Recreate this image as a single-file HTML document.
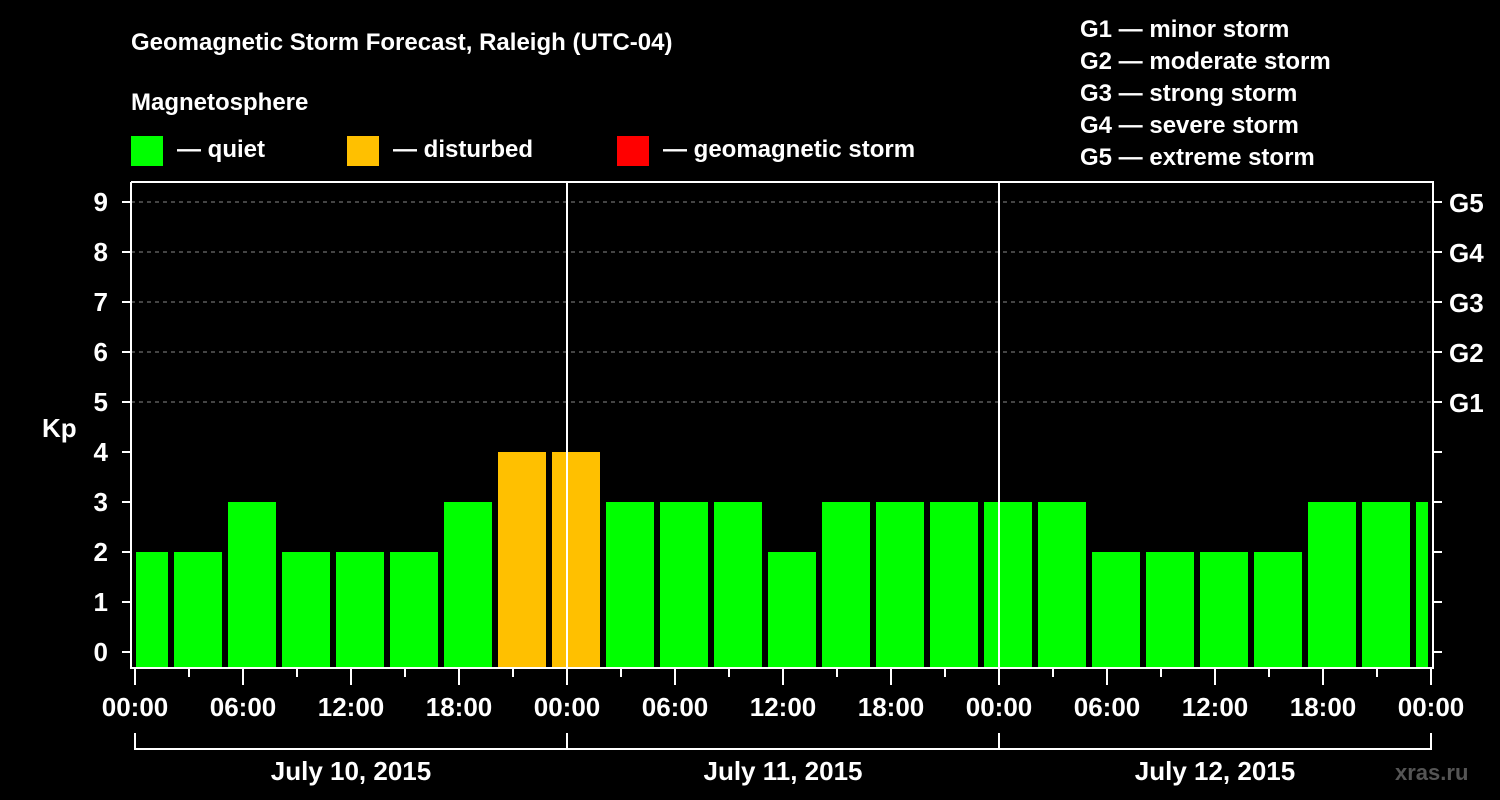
<!DOCTYPE html>
<html><head><meta charset="utf-8"><style>
html,body{margin:0;padding:0;background:#000;}
svg{display:block;font-family:"Liberation Sans",sans-serif;font-weight:bold;}
</style></head><body>
<svg id="chart" width="1500" height="800" viewBox="0 0 1500 800">
<rect width="1500" height="800" fill="#000"/>
<text x="131" y="50" fill="#fff" font-size="24">Geomagnetic Storm Forecast, Raleigh (UTC-04)</text>
<text x="131" y="110" fill="#fff" font-size="24">Magnetosphere</text>
<g><rect x="131" y="136" width="32" height="30" fill="#00ff00"/><text x="177" y="157" fill="#fff" font-size="24">— quiet</text></g>
<g><rect x="347" y="136" width="32" height="30" fill="#ffc000"/><text x="393" y="157" fill="#fff" font-size="24">— disturbed</text></g>
<g><rect x="617" y="136" width="32" height="30" fill="#ff0000"/><text x="663" y="157" fill="#fff" font-size="24">— geomagnetic storm</text></g>
<g fill="#fff" font-size="24">
<text x="1080" y="37">G1 — minor storm</text>
<text x="1080" y="69">G2 — moderate storm</text>
<text x="1080" y="101">G3 — strong storm</text>
<text x="1080" y="133">G4 — severe storm</text>
<text x="1080" y="165">G5 — extreme storm</text>
</g>
<text x="42" y="437" fill="#fff" font-size="26">Kp</text>
<text x="1395" y="780" fill="#555" font-size="22">xras.ru</text>
<g id="grid"></g>
<g id="bars"></g>
<g id="axes"></g>
</svg>
<script>
const kpValues=[2,2,3,2,2,2,3,4,4,3,3,3,2,3,3,3,3,3,2,2,2,2,3,3,3];
const barHours=[0.5,3.5,6.5,9.5,12.5,15.5,18.5,21.5,24.5,27.5,30.5,33.5,36.5,39.5,42.5,45.5,48.5,51.5,54.5,57.5,60.5,63.5,66.5,69.5,72.5];
const yTicks=[0,1,2,3,4,5,6,7,8,9];
const gLabels=["G1","G2","G3","G4","G5"];
const gLevels=[5,6,7,8,9];
const dayLabels=["July 10, 2015","July 11, 2015","July 12, 2015"];
const xTickLabels=["00:00","06:00","12:00","18:00","00:00","06:00","12:00","18:00","00:00","06:00","12:00","18:00","00:00"];
const NS="http://www.w3.org/2000/svg";
const x0=135,pxH=18,y0=652,pxK=50,clipL=136,clipR=1428;
const X=h=>x0+h*pxH, Y=k=>y0-k*pxK;
function mk(tag,attrs,parent,txt){const e=document.createElementNS(NS,tag);for(const k in attrs)e.setAttribute(k,attrs[k]);if(txt!==undefined)e.textContent=txt;parent.appendChild(e);return e;}
const grid=document.getElementById('grid'),bars=document.getElementById('bars'),axes=document.getElementById('axes');
gLevels.forEach((k,i)=>{
 const l=mk('line',{x1:131,x2:1433,y1:Y(k),y2:Y(k),stroke:'#888','stroke-dasharray':'4,4','stroke-width':1},grid);
 
 
 const t=mk('text',{x:1449,y:Y(k)+10,fill:'#fff','font-size':26},axes,gLabels[i]);
 
 
});
kpValues.forEach((v,i)=>{
 let a=X(barHours[i])-24,b=a+48;a=Math.max(a,clipL);b=Math.min(b,clipR);
 const c=v>=5?'#ff0000':(v>=4?'#ffc000':'#00ff00');
 const r=mk('rect',{x:a,y:Y(v),width:b-a,height:Y(0)+16-Y(v),fill:c},bars);
 
 
});
[1,2].forEach(d=>{const l=mk('line',{x1:X(d*24),x2:X(d*24),y1:182,y2:668,stroke:'#fff','stroke-width':2},axes);
 
 });
const f=mk('polyline',{points:'131,182 1433,182 1433,668 131,668 131,182',fill:'none',stroke:'#fff','stroke-width':2},axes);


yTicks.forEach(k=>{
 mk('line',{x1:122,x2:131,y1:Y(k),y2:Y(k),stroke:'#fff','stroke-width':2},axes);
 mk('line',{x1:1433,x2:1442,y1:Y(k),y2:Y(k),stroke:'#fff','stroke-width':2},axes);
 const t=mk('text',{x:108,y:Y(k)+9,fill:'#fff','font-size':26,'text-anchor':'end'},axes,String(k));
 
 
});
for(let h=0;h<=72;h+=3){
 const major=h%6===0;
 mk('line',{x1:X(h),x2:X(h),y1:669,y2:major?685:677,stroke:'#fff','stroke-width':2},axes);
 if(major){const t=mk('text',{x:X(h),y:716,fill:'#fff','font-size':26,'text-anchor':'middle'},axes,xTickLabels[h/6]);
  
  }
}
const br=mk('polyline',{points:`${X(0)},733 ${X(0)},749 ${X(72)},749 ${X(72)},733`,fill:'none',stroke:'#fff','stroke-width':2},axes);


dayLabels.forEach((d,i)=>{
 mk('line',{x1:X(24*i),x2:X(24*i),y1:733,y2:749,stroke:'#fff','stroke-width':2},axes);
 const t=mk('text',{x:X(24*i+12),y:780,fill:'#fff','font-size':26,'text-anchor':'middle'},axes,d);
 
 
});
</script>
</body></html>
